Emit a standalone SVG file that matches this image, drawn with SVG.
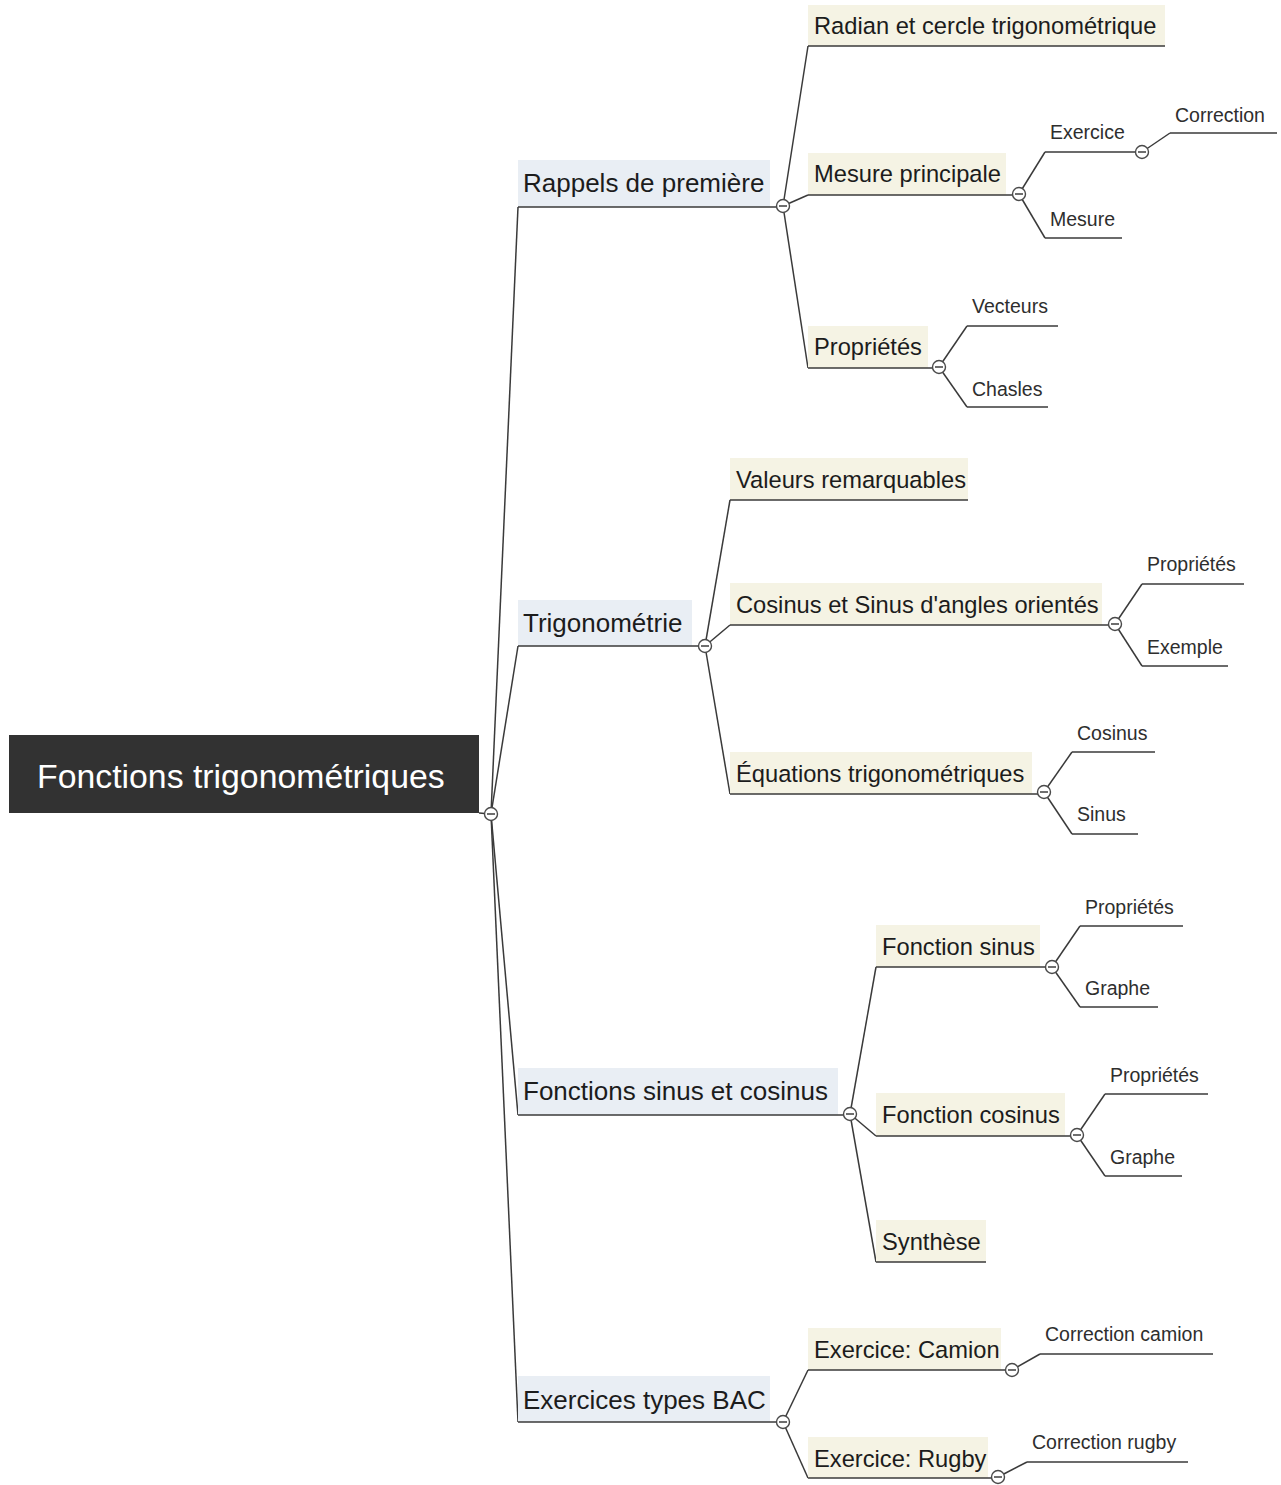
<svg xmlns="http://www.w3.org/2000/svg" width="1281" height="1485" viewBox="0 0 1281 1485">
<style>
text{font-family:"Liberation Sans",Arial,Helvetica,sans-serif;}
.root{font-size:33.8px;fill:#ffffff;}
.l1{font-size:26px;fill:#1c1c1c;}
.l2{font-size:23.7px;fill:#1c1c1c;}
.l3{font-size:19.5px;fill:#2e2e2e;}
.b1{fill:#e9eef4;}
.b2{fill:#f5f3e4;}
.ul{stroke:#3a3a3a;stroke-width:1.6;fill:none;}
.cn line{stroke:#3a3a3a;stroke-width:1.5;fill:none;}
.tog circle{fill:#ffffff;stroke:#4a4a4a;stroke-width:1.4;}
.tog line{stroke:#4a4a4a;stroke-width:1.6;}
</style>
<defs>
<g id="tg" class="tog"><circle cx="0" cy="0" r="6.5"/><line x1="-4" y1="0" x2="4" y2="0"/></g>
</defs>
<rect width="1281" height="1485" fill="#ffffff"/>

<g id="connectors" class="cn">
<line x1="479" y1="813" x2="491" y2="814"/>
<line x1="491" y1="814" x2="518" y2="207"/>
<line x1="491" y1="814" x2="518" y2="646"/>
<line x1="491" y1="814" x2="518" y2="1115"/>
<line x1="491" y1="814" x2="518" y2="1422"/>
<line x1="783" y1="206" x2="808" y2="46"/>
<line x1="783" y1="206" x2="808" y2="195"/>
<line x1="783" y1="206" x2="808" y2="368"/>
<line x1="705" y1="646" x2="730" y2="500"/>
<line x1="705" y1="646" x2="730" y2="625"/>
<line x1="705" y1="646" x2="730" y2="794"/>
<line x1="850" y1="1114" x2="876" y2="967"/>
<line x1="850" y1="1114" x2="876" y2="1136"/>
<line x1="850" y1="1114" x2="876" y2="1262"/>
<line x1="783" y1="1422" x2="808" y2="1370"/>
<line x1="783" y1="1422" x2="808" y2="1478"/>
<line x1="1019" y1="194" x2="1045" y2="152"/>
<line x1="1019" y1="194" x2="1045" y2="238"/>
<line x1="1142" y1="152" x2="1170" y2="133"/>
<line x1="939" y1="367" x2="967" y2="326"/>
<line x1="939" y1="367" x2="967" y2="407"/>
<line x1="1115" y1="624" x2="1142" y2="584"/>
<line x1="1115" y1="624" x2="1142" y2="666"/>
<line x1="1044" y1="792" x2="1072" y2="752"/>
<line x1="1044" y1="792" x2="1072" y2="834"/>
<line x1="1052" y1="967" x2="1080" y2="926"/>
<line x1="1052" y1="967" x2="1080" y2="1007"/>
<line x1="1077" y1="1135" x2="1105" y2="1094"/>
<line x1="1077" y1="1135" x2="1105" y2="1176"/>
<line x1="1012" y1="1370" x2="1040" y2="1354"/>
<line x1="998" y1="1477" x2="1027" y2="1462"/>
</g>

<g id="n-root">
<rect x="9" y="735" width="470" height="78" fill="#323232"/>
<text class="root" x="37" y="788">Fonctions trigonométriques</text>
<use href="#tg" x="491" y="814"/>
</g>

<g id="n-rappels">
<rect class="b1" x="518" y="160" width="252" height="47"/>
<text class="l1" x="523" y="192">Rappels de première</text>
<line class="ul" x1="518" y1="207" x2="777" y2="207"/>
<use href="#tg" x="783" y="206"/>
</g>
<g id="n-radian">
<rect class="b2" x="808" y="5" width="357" height="41"/>
<text class="l2" x="814" y="34">Radian et cercle trigonométrique</text>
<line class="ul" x1="808" y1="46" x2="1165" y2="46"/>
</g>
<g id="n-mesure-principale">
<rect class="b2" x="808" y="153" width="198" height="42"/>
<text class="l2" x="814" y="182">Mesure principale</text>
<line class="ul" x1="808" y1="195" x2="1013" y2="195"/>
<use href="#tg" x="1019" y="194"/>
</g>
<g id="n-exercice">
<text class="l3" x="1050" y="139">Exercice</text>
<line class="ul" x1="1045" y1="152" x2="1136" y2="152"/>
<use href="#tg" x="1142" y="152"/>
</g>
<g id="n-correction">
<text class="l3" x="1175" y="122">Correction</text>
<line class="ul" x1="1170" y1="133" x2="1277" y2="133"/>
</g>
<g id="n-mesure">
<text class="l3" x="1050" y="226">Mesure</text>
<line class="ul" x1="1045" y1="238" x2="1122" y2="238"/>
</g>
<g id="n-proprietes1">
<rect class="b2" x="808" y="326" width="120" height="42"/>
<text class="l2" x="814" y="355">Propriétés</text>
<line class="ul" x1="808" y1="368" x2="933" y2="368"/>
<use href="#tg" x="939" y="367"/>
</g>
<g id="n-vecteurs">
<text class="l3" x="972" y="313">Vecteurs</text>
<line class="ul" x1="967" y1="326" x2="1058" y2="326"/>
</g>
<g id="n-chasles">
<text class="l3" x="972" y="396">Chasles</text>
<line class="ul" x1="967" y1="407" x2="1048" y2="407"/>
</g>

<g id="n-trigonometrie">
<rect class="b1" x="518" y="600" width="174" height="46"/>
<text class="l1" x="523" y="632">Trigonométrie</text>
<line class="ul" x1="518" y1="646" x2="699" y2="646"/>
<use href="#tg" x="705" y="646"/>
</g>
<g id="n-valeurs">
<rect class="b2" x="730" y="458" width="238" height="42"/>
<text class="l2" x="736" y="488">Valeurs remarquables</text>
<line class="ul" x1="730" y1="500" x2="968" y2="500"/>
</g>
<g id="n-cossin">
<rect class="b2" x="730" y="583" width="372" height="42"/>
<text class="l2" x="736" y="613">Cosinus et Sinus d'angles orientés</text>
<line class="ul" x1="730" y1="625" x2="1109" y2="625"/>
<use href="#tg" x="1115" y="624"/>
</g>
<g id="n-proprietes2">
<text class="l3" x="1147" y="571">Propriétés</text>
<line class="ul" x1="1142" y1="584" x2="1244" y2="584"/>
</g>
<g id="n-exemple">
<text class="l3" x="1147" y="654">Exemple</text>
<line class="ul" x1="1142" y1="666" x2="1228" y2="666"/>
</g>
<g id="n-equations">
<rect class="b2" x="730" y="752" width="302" height="42"/>
<text class="l2" x="736" y="782">Équations trigonométriques</text>
<line class="ul" x1="730" y1="794" x2="1038" y2="794"/>
<use href="#tg" x="1044" y="792"/>
</g>
<g id="n-cosinus">
<text class="l3" x="1077" y="740">Cosinus</text>
<line class="ul" x1="1072" y1="752" x2="1155" y2="752"/>
</g>
<g id="n-sinus">
<text class="l3" x="1077" y="821">Sinus</text>
<line class="ul" x1="1072" y1="834" x2="1138" y2="834"/>
</g>

<g id="n-fonctions-sc">
<rect class="b1" x="518" y="1068" width="320" height="47"/>
<text class="l1" x="523" y="1100">Fonctions sinus et cosinus</text>
<line class="ul" x1="518" y1="1115" x2="844" y2="1115"/>
<use href="#tg" x="850" y="1114"/>
</g>
<g id="n-fonction-sinus">
<rect class="b2" x="876" y="925" width="164" height="42"/>
<text class="l2" x="882" y="955">Fonction sinus</text>
<line class="ul" x1="876" y1="967" x2="1046" y2="967"/>
<use href="#tg" x="1052" y="967"/>
</g>
<g id="n-proprietes3">
<text class="l3" x="1085" y="914">Propriétés</text>
<line class="ul" x1="1080" y1="926" x2="1183" y2="926"/>
</g>
<g id="n-graphe1">
<text class="l3" x="1085" y="995">Graphe</text>
<line class="ul" x1="1080" y1="1007" x2="1158" y2="1007"/>
</g>
<g id="n-fonction-cosinus">
<rect class="b2" x="876" y="1093" width="189" height="43"/>
<text class="l2" x="882" y="1123">Fonction cosinus</text>
<line class="ul" x1="876" y1="1136" x2="1071" y2="1136"/>
<use href="#tg" x="1077" y="1135"/>
</g>
<g id="n-proprietes4">
<text class="l3" x="1110" y="1082">Propriétés</text>
<line class="ul" x1="1105" y1="1094" x2="1208" y2="1094"/>
</g>
<g id="n-graphe2">
<text class="l3" x="1110" y="1164">Graphe</text>
<line class="ul" x1="1105" y1="1176" x2="1182" y2="1176"/>
</g>
<g id="n-synthese">
<rect class="b2" x="876" y="1220" width="110" height="42"/>
<text class="l2" x="882" y="1250">Synthèse</text>
<line class="ul" x1="876" y1="1262" x2="986" y2="1262"/>
</g>

<g id="n-bac">
<rect class="b1" x="518" y="1376" width="252" height="46"/>
<text class="l1" x="523" y="1409">Exercices types BAC</text>
<line class="ul" x1="518" y1="1422" x2="777" y2="1422"/>
<use href="#tg" x="783" y="1422"/>
</g>
<g id="n-camion">
<rect class="b2" x="808" y="1328" width="193" height="42"/>
<text class="l2" x="814" y="1358">Exercice: Camion</text>
<line class="ul" x1="808" y1="1370" x2="1006" y2="1370"/>
<use href="#tg" x="1012" y="1370"/>
</g>
<g id="n-correction-camion">
<text class="l3" x="1045" y="1341">Correction camion</text>
<line class="ul" x1="1040" y1="1354" x2="1213" y2="1354"/>
</g>
<g id="n-rugby">
<rect class="b2" x="808" y="1437" width="180" height="41"/>
<text class="l2" x="814" y="1467">Exercice: Rugby</text>
<line class="ul" x1="808" y1="1478" x2="992" y2="1478"/>
<use href="#tg" x="998" y="1477"/>
</g>
<g id="n-correction-rugby">
<text class="l3" x="1032" y="1449">Correction rugby</text>
<line class="ul" x1="1027" y1="1462" x2="1188" y2="1462"/>
</g>
</svg>
